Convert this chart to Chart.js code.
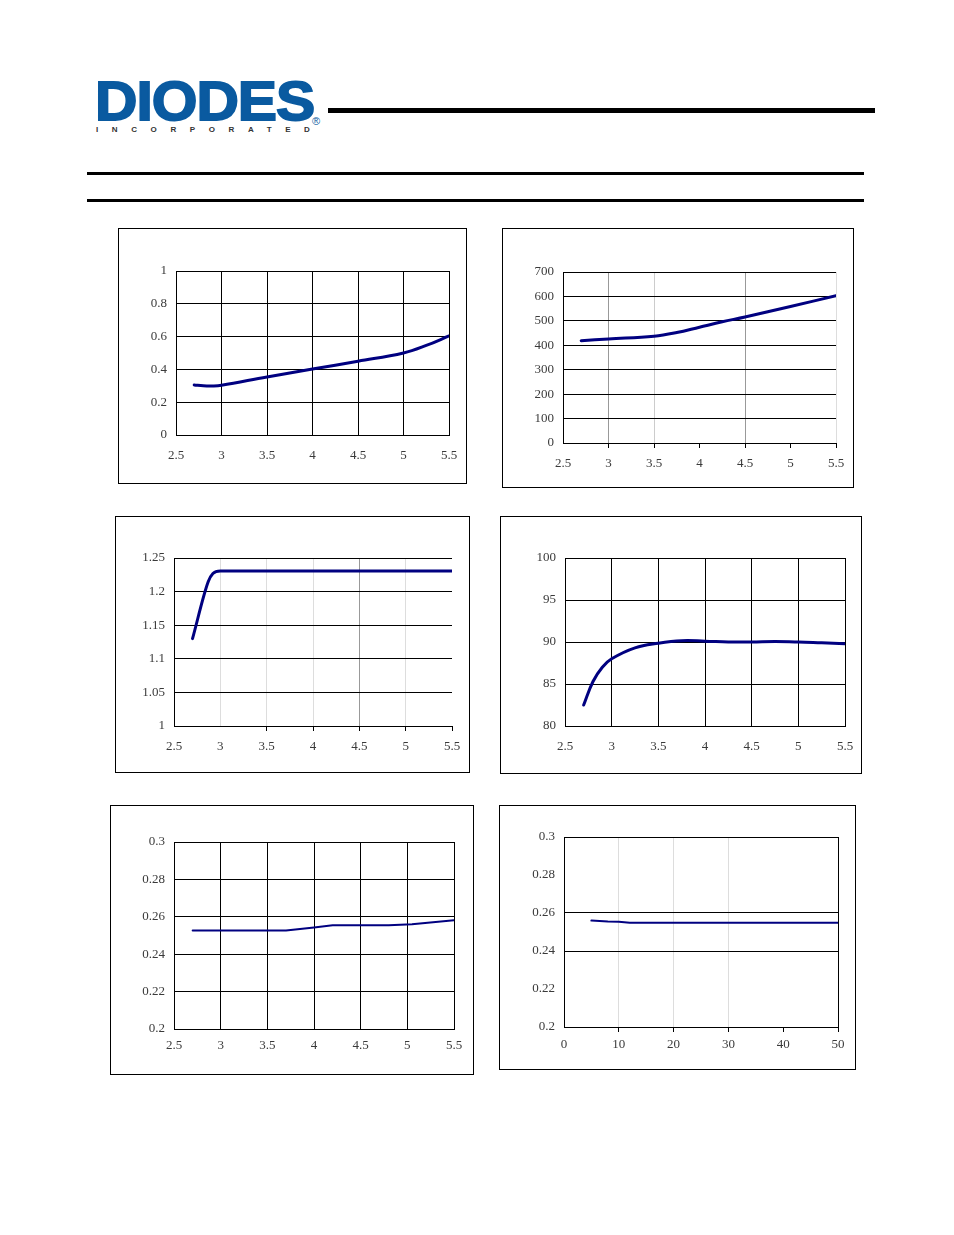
<!DOCTYPE html>
<html><head><meta charset="utf-8">
<script src="https://cdn.jsdelivr.net/npm/chart.js@4"></script>
<style>
html,body{margin:0;padding:0;background:#fff;}
body{width:954px;height:1235px;position:relative;overflow:hidden;}
.abs{position:absolute;white-space:nowrap;}
.box{position:absolute;border:1px solid #000;box-sizing:border-box;}
.rule{position:absolute;background:#000;}
</style></head><body>
<div class="abs" style="left:95px;top:73px;font-family:'Liberation Sans',Arial,sans-serif;font-weight:700;font-size:56px;line-height:1;color:#0a5aa0;letter-spacing:-1px;-webkit-text-stroke:1.8px #0a5aa0;transform:scaleX(1.05);transform-origin:0 0;">DIODES</div>
<div class="abs" style="left:312px;top:116px;font-family:'Liberation Sans',Arial,sans-serif;font-size:11px;line-height:1;color:#0a5aa0;">®</div>
<div class="abs" style="left:96px;top:126px;font-family:'Liberation Sans',Arial,sans-serif;font-weight:700;font-size:8px;line-height:1;color:#333;letter-spacing:13.6px;">INCORPORATED</div>
<div class="rule" style="left:328px;top:108px;width:547px;height:5px;"></div>
<div class="rule" style="left:87px;top:172px;width:777px;height:3px;"></div>
<div class="rule" style="left:87px;top:199px;width:777px;height:3px;"></div>
<script>
// ---- data ----
const vinTicks = [2.5, 3, 3.5, 4, 4.5, 5, 5.5];
const ioutTicks = [0, 10, 20, 30, 40, 50];
const c1Ticks = [0, 0.2, 0.4, 0.6, 0.8, 1];
const c2Ticks = [0, 100, 200, 300, 400, 500, 600, 700];
const c3Ticks = [1, 1.05, 1.1, 1.15, 1.2, 1.25];
const c4Ticks = [80, 85, 90, 95, 100];
const c5Ticks = [0.2, 0.22, 0.24, 0.26, 0.28, 0.3];
const c6Ticks = [0.2, 0.22, 0.24, 0.26, 0.28, 0.3];

const c1X = [2.7, 2.8, 2.9, 3.0, 3.5, 4.0, 4.5, 5.0, 5.25, 5.5];
const c1Y = [0.305, 0.300, 0.299, 0.303, 0.354, 0.402, 0.450, 0.500, 0.546, 0.604];

const c2X = [2.7, 3.0, 3.5, 3.75, 4.0, 4.25, 4.5, 5.0, 5.5];
const c2Y = [419, 426, 437, 452, 474, 496, 516, 559, 603];

const c3X = [2.7, 2.87, 2.92, 3.0, 3.5, 4.0, 5.0, 5.5];
const c3Y = [1.13, 1.215, 1.227, 1.2308, 1.2308, 1.2305, 1.2305, 1.2305];

const c4X = [2.7, 2.8, 2.9, 3.0, 3.25, 3.5, 3.75, 4.0, 4.25, 4.5, 4.75, 5.0, 5.25, 5.5];
const c4Y = [82.5, 85.3, 87.0, 88.0, 89.3, 89.85, 90.15, 90.1, 90.0, 90.0, 90.05, 90.0, 89.9, 89.8];

const c5X = [2.7, 3.7, 4.0, 4.2, 4.8, 5.05, 5.5];
const c5Y = [0.2527, 0.2527, 0.2543, 0.2555, 0.2555, 0.2560, 0.2582];

const c6X = [5, 8, 10, 12, 20, 30, 40, 50];
const c6Y = [0.2560, 0.2555, 0.2554, 0.2549, 0.2549, 0.2549, 0.2549, 0.2549];

// ---- drawing ----
const YW = 50, XH = 30;
const FONT = {family: "'Liberation Serif', 'Times New Roman', serif", size: 13};
const LBL = '#3a3a3a';

function build(box, plot, o) {
  const w = box[2] - box[0], h = box[3] - box[1];
  const b = document.createElement('div');
  b.className = 'box';
  Object.assign(b.style, {left: box[0] + 'px', top: box[1] + 'px', width: (w + 1) + 'px', height: (h + 1) + 'px'});
  document.body.appendChild(b);
  const wrap = document.createElement('div');
  wrap.className = 'abs';
  Object.assign(wrap.style, {left: box[0] + 'px', top: box[1] + 'px', width: w + 'px', height: h + 'px'});
  const cv = document.createElement('canvas');
  cv.width = w; cv.height = h;
  cv.style.width = w + 'px'; cv.style.height = h + 'px';
  wrap.appendChild(cv);
  document.body.appendChild(wrap);
  const setTicks = arr => s => { s.ticks = arr.map(v => ({value: v})); };
  new Chart(cv, {
    type: 'line',
    data: {datasets: [{
      data: o.xs.map((x, i) => ({x: x, y: o.ys[i]})),
      borderColor: '#000080', borderWidth: o.lw, pointRadius: 0,
      tension: o.tension, cubicInterpolationMode: o.mono ? 'monotone' : 'default',
      fill: false, borderCapStyle: 'round', borderJoinStyle: 'round'
    }]},
    options: {
      responsive: false, animation: false,
      plugins: {legend: {display: false}, tooltip: {enabled: false}},
      layout: {padding: {left: plot[0] - box[0] - YW, top: plot[1] - box[1], right: box[2] - plot[2], bottom: box[3] - plot[3] - XH}},
      scales: {
        x: {
          type: 'linear', min: o.xt[0], max: o.xt[o.xt.length - 1],
          afterBuildTicks: setTicks(o.xt), afterFit: s => { s.height = XH; },
          ticks: {font: FONT, color: LBL, padding: o.xpad, maxRotation: 0, autoSkip: false, callback: v => String(v)},
          grid: {color: c => o.xg(c.tick ? c.tick.value : 0), lineWidth: 1, drawTicks: true, tickLength: o.tl,
                 tickColor: c => (o.xtm ? o.xtm(c.tick ? c.tick.value : 0) : 'transparent')},
          border: {color: '#000', width: 1}
        },
        y: {
          type: 'linear', min: o.yt[0], max: o.yt[o.yt.length - 1],
          afterBuildTicks: setTicks(o.yt), afterFit: s => { s.width = YW; },
          ticks: {font: FONT, color: LBL, padding: 9, autoSkip: false, callback: v => String(v)},
          grid: {color: c => o.yg(c.tick ? c.tick.value : 0), lineWidth: 1, drawTicks: false},
          border: {color: '#000', width: 1}
        }
      }
    }
  });
}

const black = () => '#000';
const pick = (m, d) => v => (m[String(v)] !== undefined ? m[String(v)] : d);

build([118, 228, 466, 483], [176, 271, 449, 435],
  {xs: c1X, ys: c1Y, xt: vinTicks, yt: c1Ticks, lw: 3, tension: 0.4, tl: 9, xpad: 4, xg: black, yg: black});

build([502, 228, 853, 487], [563, 272, 836, 443],
  {xs: c2X, ys: c2Y, xt: vinTicks, yt: c2Ticks, lw: 3, tension: 0.4, tl: 5, xpad: 8,
   xg: pick({'2.5': '#000', '3': '#999', '3.5': '#ccc', '4': 'transparent', '4.5': '#999', '5': 'transparent', '5.5': '#ddd'}, '#000'),
   xtm: v => (v === 2.5 ? 'transparent' : '#000'), yg: black});

build([115, 516, 469, 772], [174, 558, 452, 726],
  {xs: c3X, ys: c3Y, xt: vinTicks, yt: c3Ticks, lw: 3, tension: 0.4, mono: true, tl: 5, xpad: 7.5,
   xg: pick({'2.5': '#000', '3': '#ddd', '3.5': '#ddd', '4': '#ddd', '4.5': '#999', '5': '#ddd', '5.5': 'transparent'}, '#000'),
   xtm: v => (v === 2.5 || v === 3 ? 'transparent' : '#000'), yg: black});

build([500, 516, 861, 773], [565, 558, 845, 726],
  {xs: c4X, ys: c4Y, xt: vinTicks, yt: c4Ticks, lw: 3, tension: 0.4, tl: 9, xpad: 3.5, xg: black, yg: black});

build([110, 805, 473, 1074], [174, 842, 454, 1029],
  {xs: c5X, ys: c5Y, xt: vinTicks, yt: c5Ticks, lw: 2, tension: 0, tl: 6, xpad: 3, xg: black, yg: black});

build([499, 805, 855, 1069], [564, 837, 838, 1027],
  {xs: c6X, ys: c6Y, xt: ioutTicks, yt: c6Ticks, lw: 2, tension: 0, tl: 5, xpad: 4.5,
   xg: pick({'0': '#000', '10': '#ddd', '20': '#ddd', '30': '#ddd', '40': 'transparent', '50': '#000'}, '#000'),
   xtm: v => (v === 0 ? 'transparent' : '#000'),
   yg: pick({'0.3': '#000', '0.26': '#000', '0.24': '#000', '0.28': 'transparent', '0.22': 'transparent', '0.2': '#000'}, '#000')});
</script>
</body></html>
